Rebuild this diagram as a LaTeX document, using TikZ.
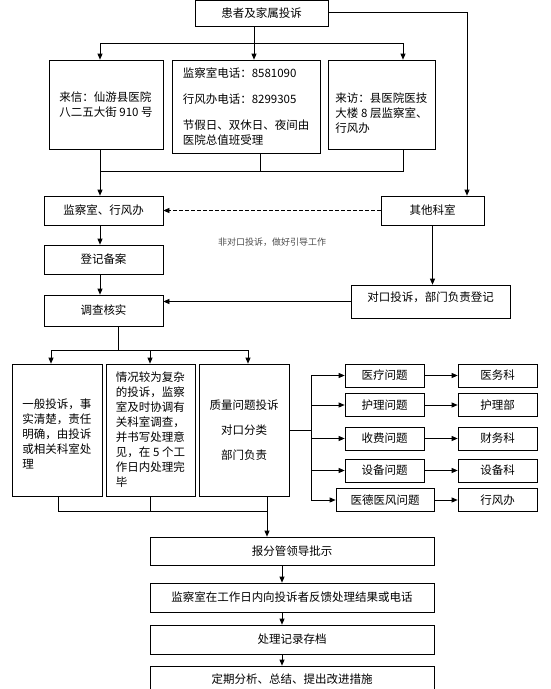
\documentclass[tikz,border=0pt]{standalone}
\usepackage{fontspec}
\newfontfamily\cjk{Noto Sans CJK SC}
\usetikzlibrary{arrows.meta}

\tikzset{
  box/.style={draw, inner sep=2pt, align=center,
    font=\cjk\fontsize{11.5}{15}\selectfont},
  tbox/.style={box, align=left},
  note/.style={font=\cjk\fontsize{9}{11}\selectfont, text=black!70},
}

\begin{document}
\begin{tikzpicture}[x=1pt,y=-1pt,line width=0.7pt,>={Triangle[length=6pt,width=5pt]}]
\useasboundingbox (0,0) rectangle (550,689);
%complaint sources
\node[box, minimum width=133pt, minimum height=25.5pt] (top) at (261.5,13.25) {患者及家属投诉};
\node[tbox, minimum width=114pt, minimum height=89pt] (letter) at (106,104.5)
  {来信：仙游县医院\\八二五大街 910 号};
\node[tbox, minimum width=148pt, minimum height=93pt] (phone) at (246,106.5)
  {监察室电话：8581090\\[11pt]行风办电话：8299305\\[11pt]节假日、双休日、夜间由\\医院总值班受理};
\node[tbox, minimum width=107pt, minimum height=89pt] (visit) at (381.5,104.5)
  {\mbox{}\\[11pt]来访：县医院医技\\大楼 8 层监察室、\\行风办};
\coordinate (s1) at (100,43);
\coordinate (s2) at (254,43);
\coordinate (s3) at (403,43);
\draw (top.south -| s2) -- (s2);
\draw (s1) -- (s3);
\foreach \s/\b in {s1/letter, s2/phone, s3/visit}
  \draw[->] (\s) -- (\s |- \b.north);
%join to office
\coordinate (j1) at (100,171);
\coordinate (j2) at (260,171);
\coordinate (j3) at (403,171);
\node[box, minimum width=119pt, minimum height=29pt] (office) at (103.5,210.5) {监察室、行风办};
\node[box, minimum width=103pt, minimum height=29pt] (other) at (432.5,210.5) {其他科室};
\draw (letter.south -| j1) -- (j1) -- (j3) -- (visit.south -| j3);
\draw (phone.south -| j2) -- (j2);
\draw[->] (j1) -- (j1 |- office.north);
\coordinate (rt) at (467,12);
\draw[->] (top.east |- rt) -- (rt) -- (rt |- other.north);
\draw[->, dash pattern=on 4pt off 2pt] (other.west) -- (office.east);
\node[note] (hint) at (272,242) {非对口投诉，做好引导工作};
%register and verify
\node[box, minimum width=119pt, minimum height=29pt] (register) at (103.5,259.5) {登记备案};
\node[box, minimum width=119pt, minimum height=31pt] (verify) at (103.5,310.5) {调查核实};
\node[box, minimum width=159pt, minimum height=33pt] (dept) at (430.5,301.5)
  {对口投诉，部门负责登记\\[-6pt]\mbox{}};
\draw[->] (office.south -| j1) -- (j1 |- register.north);
\draw[->] (register.south -| j1) -- (j1 |- verify.north);
\draw[->] (other.south) -- (other.south |- dept.north);
\draw[->] (dept.west) -- (dept.west -| verify.east);
%three kinds of handling
\coordinate (k0) at (118,350);
\coordinate (k1) at (51,350);
\coordinate (k2) at (150,350);
\coordinate (k3) at (248,350);
\node[tbox, minimum width=90pt, minimum height=132pt] (g1) at (57,430)
  {\mbox{}\\[3pt]一般投诉，事\\实清楚，责任\\明确，由投诉\\或相关科室处\\理};
\node[tbox, minimum width=89pt, minimum height=132pt] (g2) at (150.5,430)
  {情况较为复杂\\的投诉，监察\\室及时协调有\\关科室调查，\\并书写处理意\\见，在 5 个工\\作日内处理完\\毕};
\node[box, minimum width=90pt, minimum height=132pt] (g3) at (244,430)
  {质量问题投诉\\[10pt]对口分类\\[10pt]部门负责};
\draw (verify.south -| k0) -- (k0);
\draw (k1) -- (k3);
\foreach \k/\g in {k1/g1, k2/g2, k3/g3}
  \draw[->] (\k) -- (\k |- \g.north);
%quality problems by department
\coordinate (bx) at (311,430);
\draw (g3.east) -- (bx);
\foreach \i/\y/\cx/\cw/\ptxt/\dtxt in {1/375.5/384.5/79/医疗问题/医务科,
    2/405/384.5/79/护理问题/护理部, 3/438.5/384.5/79/收费问题/财务科,
    4/470.5/384.5/79/设备问题/设备科, 5/500/385/98/医德医风问题/行风办}{
  \node[box, minimum width=\cw*1pt, minimum height=23pt] (prob\i) at (\cx,\y) {\ptxt};
  \node[box, minimum width=79pt, minimum height=23pt] (unit\i) at (497.5,\y) {\dtxt};
  \draw[->] (prob\i.east) -- (unit\i.west);
  \draw[->] (bx |- prob\i.west) -- (prob\i.west);
}
\draw (bx |- prob1.west) -- (bx |- prob5.west);
%follow up
\coordinate (m1) at (58,511);
\coordinate (m2) at (150,511);
\coordinate (m3) at (267,511);
\coordinate (ax) at (282,520);
\node[box, minimum width=284pt, minimum height=28pt] (report) at (292,551) {报分管领导批示};
\node[box, minimum width=284pt, minimum height=29pt] (feedback) at (292,597.5) {监察室在工作日内向投诉者反馈处理结果或电话};
\node[box, minimum width=284pt, minimum height=29pt] (archive) at (292,639.5) {处理记录存档};
\node[box, minimum width=284pt, minimum height=26pt] (analyse) at (292,679) {定期分析、总结、提出改进措施};
\draw (g1.south -| m1) -- (m1) -- (m3);
\draw (g2.south -| m2) -- (m2);
\draw (g3.south -| m3) -- (m3);
\draw[->] (m3) -- (m3 |- report.north);
\draw[->] (report.south -| ax) -- (ax |- feedback.north);
\draw[->] (feedback.south -| ax) -- (ax |- archive.north);
\draw[->] (archive.south -| ax) -- (ax |- analyse.north);
\end{tikzpicture}
\end{document}
